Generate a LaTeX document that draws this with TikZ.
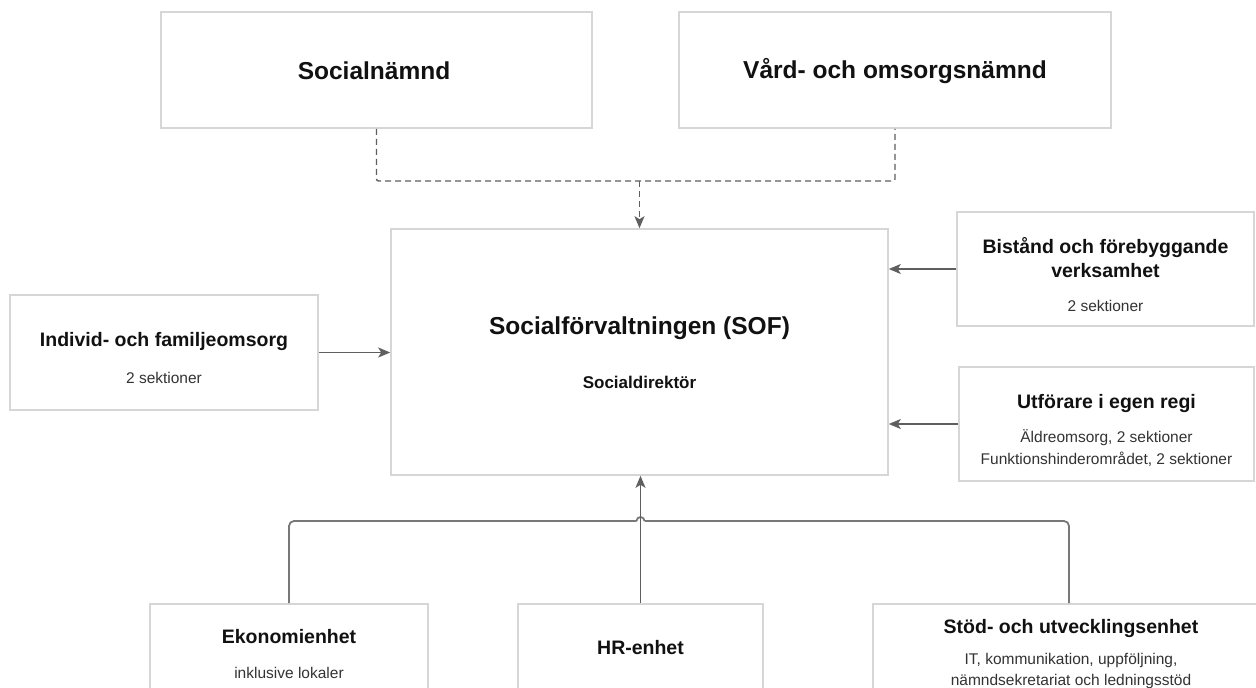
\documentclass[tikz,border=0pt]{standalone}
\usepackage{fontspec}
\setmainfont{Liberation Sans}
\usetikzlibrary{arrows.meta,calc}
\definecolor{boxline}{RGB}{214,214,214}
\definecolor{conn}{RGB}{95,95,95}
\definecolor{busc}{RGB}{120,120,120}
\definecolor{titlec}{RGB}{17,17,17}
\definecolor{subc}{RGB}{51,51,51}
\tikzset{
  box/.style={draw=boxline, line width=1.6pt, fill=white, rectangle, inner sep=0pt},
  bigtitle/.style={text=titlec, font=\bfseries\fontsize{24.5}{30}\selectfont, inner sep=0pt},
  sectitle/.style={text=titlec, font=\bfseries\fontsize{19.5}{24.5}\selectfont, align=center, inner sep=0pt},
  subtext/.style={text=subc, font=\fontsize{15.5}{21.5}\selectfont, align=center, inner sep=0pt},
  tip/.style={-{Stealth[length=12pt,width=10pt,inset=3pt]}},
  arrowline/.style={draw=conn, line width=1.4pt, tip},
  dashline/.style={draw=conn, line width=1.4pt, dash pattern=on 6pt off 4pt},
  busline/.style={draw=busc, line width=1.8pt},
}
\begin{document}
\begin{tikzpicture}[x=1pt,y=-1pt]
\useasboundingbox (0,0) rectangle (1256,688);
\clip (0,0) rectangle (1256,688);
\fill[white] (0,0) rectangle (1256,688);
% boxes
\node[box, minimum width=431pt, minimum height=116pt] (soc) at (376.5,70) {};
\node[box, minimum width=432pt, minimum height=116pt] (vard) at (895,70) {};
\node[box, minimum width=497pt, minimum height=246pt] (sof) at (639.5,352) {};
\node[box, minimum width=308pt, minimum height=115pt] (indiv) at (164,352.5) {};
\node[box, minimum width=297pt, minimum height=114pt] (bist) at (1105.5,269) {};
\node[box, minimum width=295pt, minimum height=114pt] (utf) at (1106.5,424) {};
\node[box, minimum width=278pt, minimum height=140pt] (ekon) at (289,674) {};
\node[box, minimum width=245pt, minimum height=140pt] (hr) at (640.5,674) {};
\node[box, minimum width=392pt, minimum height=140pt] (stod) at (1069,674) {};
% texts
\node[bigtitle] (tsoc) at (374,71) {Socialnämnd};
\node[bigtitle] (tvard) at (895,71) {Vård- och omsorgsnämnd};
\node[bigtitle] (tsof) at (639.5,328) {Socialförvaltningen (SOF)};
\node[text=titlec, font=\bfseries\fontsize{17}{20}\selectfont, inner sep=0pt] (tsofd) at (639.5,382) {Socialdirektör};
\node[sectitle] (tindiv) at (164,341) {Individ- och familjeomsorg};
\node[subtext] (sindiv) at (164,378) {2 sektioner};
\node[sectitle] (tbist) at (1105.5,257.5) {Bistånd och förebyggande\\verksamhet};
\node[subtext] (sbist) at (1105.5,306) {2 sektioner};
\node[sectitle] (tutf) at (1106.5,403) {Utförare i egen regi};
\node[subtext] (sutf) at (1106.5,448) {Äldreomsorg, 2 sektioner\\Funktionshinderområdet, 2 sektioner};
\node[sectitle] (tekon) at (289,637) {Ekonomienhet};
\node[subtext] (sekon) at (289,673) {inklusive lokaler};
\node[sectitle] (thr) at (640.5,648) {HR-enhet};
\node[sectitle] (tstod) at (1071,628) {Stöd- och utvecklingsenhet};
\node[subtext] (sstod) at (1071,671) {IT, kommunikation, uppföljning,\\nämndsekretariat och ledningsstöd};
% connectors
\coordinate (jn) at (639.5,181);
\draw[dashline, rounded corners=2pt] (soc.south) |- (jn) -| (vard.south);
\draw[dashline, tip] (jn) -- (sof.north);
\draw[arrowline] (indiv.east) -- (indiv.east -| sof.west);
\draw[arrowline] (bist.west) -- (bist.west -| sof.east);
\draw[arrowline] (utf.west) -- (utf.west -| sof.east);
\coordinate (busL) at (636.5,521);
\coordinate (busR) at (644.5,521);
\draw[busline, rounded corners=5pt] (ekon.north) |- (busL);
\draw[busline] (busL) arc[start angle=180, end angle=0, radius=4pt];
\draw[busline, rounded corners=5pt] (busR) -| (stod.north);
\draw[arrowline] (hr.north) -- (hr.north |- sof.south);
\end{tikzpicture}
\end{document}
